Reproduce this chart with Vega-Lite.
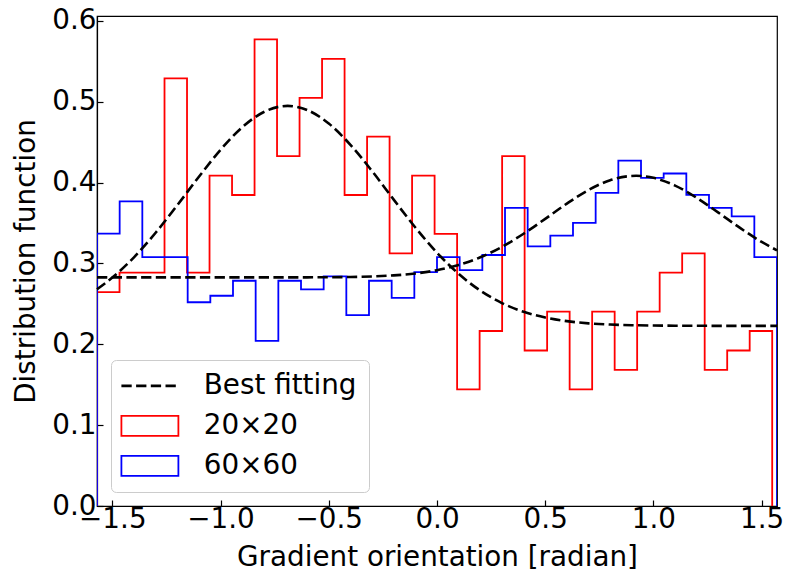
{
  "$schema": "https://vega.github.io/schema/vega-lite/v6.json",
  "width": 680,
  "height": 490,
  "autosize": {"type": "none"},
  "padding": {"left": 97, "top": 16, "right": 11, "bottom": 68},
  "config": {
    "font": "DejaVu Sans",
    "view": {"stroke": "black", "strokeWidth": 1.2},
    "axis": {
      "grid": false,
      "domainColor": "black",
      "domainWidth": 1.2,
      "tickColor": "black",
      "tickWidth": 1.2,
      "tickSize": -6,
      "labelColor": "black",
      "labelFontSize": 27.8,
      "labelFont": "DejaVu Sans",
      "titleColor": "black",
      "titleFontSize": 27.8,
      "titleFont": "DejaVu Sans",
      "titleFontWeight": "normal",
      "labelFlush": false,
      "labelOverlap": false
    }
  },
  "datasets": {
    "hist": [
      {"series": "20×20", "i": 0, "x": -1.5708, "y": 0},
      {"series": "20×20", "i": 1, "x": -1.5708, "y": 0.2644},
      {"series": "20×20", "i": 2, "x": -1.4668, "y": 0.2885},
      {"series": "20×20", "i": 3, "x": -1.3628, "y": 0.2885},
      {"series": "20×20", "i": 4, "x": -1.2589, "y": 0.5289},
      {"series": "20×20", "i": 5, "x": -1.1549, "y": 0.2885},
      {"series": "20×20", "i": 6, "x": -1.0509, "y": 0.4087},
      {"series": "20×20", "i": 7, "x": -0.9469, "y": 0.3846},
      {"series": "20×20", "i": 8, "x": -0.8429, "y": 0.5770},
      {"series": "20×20", "i": 9, "x": -0.7390, "y": 0.4327},
      {"series": "20×20", "i": 10, "x": -0.6350, "y": 0.5048},
      {"series": "20×20", "i": 11, "x": -0.5310, "y": 0.5529},
      {"series": "20×20", "i": 12, "x": -0.4270, "y": 0.3846},
      {"series": "20×20", "i": 13, "x": -0.3230, "y": 0.4568},
      {"series": "20×20", "i": 14, "x": -0.2191, "y": 0.3125},
      {"series": "20×20", "i": 15, "x": -0.1151, "y": 0.4087},
      {"series": "20×20", "i": 16, "x": -0.0111, "y": 0.3366},
      {"series": "20×20", "i": 17, "x": 0.0929, "y": 0.1442},
      {"series": "20×20", "i": 18, "x": 0.1969, "y": 0.2164},
      {"series": "20×20", "i": 19, "x": 0.3009, "y": 0.4327},
      {"series": "20×20", "i": 20, "x": 0.4048, "y": 0.1923},
      {"series": "20×20", "i": 21, "x": 0.5088, "y": 0.2404},
      {"series": "20×20", "i": 22, "x": 0.6128, "y": 0.1442},
      {"series": "20×20", "i": 23, "x": 0.7168, "y": 0.2404},
      {"series": "20×20", "i": 24, "x": 0.8208, "y": 0.1683},
      {"series": "20×20", "i": 25, "x": 0.9247, "y": 0.2404},
      {"series": "20×20", "i": 26, "x": 1.0287, "y": 0.2885},
      {"series": "20×20", "i": 27, "x": 1.1327, "y": 0.3125},
      {"series": "20×20", "i": 28, "x": 1.2367, "y": 0.1683},
      {"series": "20×20", "i": 29, "x": 1.3407, "y": 0.1923},
      {"series": "20×20", "i": 30, "x": 1.4446, "y": 0.2164},
      {"series": "20×20", "i": 31, "x": 1.5486, "y": 0.2164},
      {"series": "20×20", "i": 32, "x": 1.5486, "y": 0},
      {"series": "60×60", "i": 0, "x": -1.5708, "y": 0},
      {"series": "60×60", "i": 1, "x": -1.5708, "y": 0.3369},
      {"series": "60×60", "i": 2, "x": -1.4661, "y": 0.3767},
      {"series": "60×60", "i": 3, "x": -1.3614, "y": 0.3077},
      {"series": "60×60", "i": 4, "x": -1.2566, "y": 0.3077},
      {"series": "60×60", "i": 5, "x": -1.1519, "y": 0.2520},
      {"series": "60×60", "i": 6, "x": -1.0472, "y": 0.2600},
      {"series": "60×60", "i": 7, "x": -0.9425, "y": 0.2786},
      {"series": "60×60", "i": 8, "x": -0.8378, "y": 0.2043},
      {"series": "60×60", "i": 9, "x": -0.7330, "y": 0.2786},
      {"series": "60×60", "i": 10, "x": -0.6283, "y": 0.2679},
      {"series": "60×60", "i": 11, "x": -0.5236, "y": 0.2839},
      {"series": "60×60", "i": 12, "x": -0.4189, "y": 0.2361},
      {"series": "60×60", "i": 13, "x": -0.3142, "y": 0.2786},
      {"series": "60×60", "i": 14, "x": -0.2094, "y": 0.2573},
      {"series": "60×60", "i": 15, "x": -0.1047, "y": 0.2892},
      {"series": "60×60", "i": 16, "x": 0.0, "y": 0.3077},
      {"series": "60×60", "i": 17, "x": 0.1047, "y": 0.2918},
      {"series": "60×60", "i": 18, "x": 0.2094, "y": 0.3104},
      {"series": "60×60", "i": 19, "x": 0.3142, "y": 0.3688},
      {"series": "60×60", "i": 20, "x": 0.4189, "y": 0.3210},
      {"series": "60×60", "i": 21, "x": 0.5236, "y": 0.3343},
      {"series": "60×60", "i": 22, "x": 0.6283, "y": 0.3502},
      {"series": "60×60", "i": 23, "x": 0.7330, "y": 0.3873},
      {"series": "60×60", "i": 24, "x": 0.8378, "y": 0.4271},
      {"series": "60×60", "i": 25, "x": 0.9425, "y": 0.4059},
      {"series": "60×60", "i": 26, "x": 1.0472, "y": 0.4112},
      {"series": "60×60", "i": 27, "x": 1.1519, "y": 0.3847},
      {"series": "60×60", "i": 28, "x": 1.2566, "y": 0.3688},
      {"series": "60×60", "i": 29, "x": 1.3614, "y": 0.3582},
      {"series": "60×60", "i": 30, "x": 1.4661, "y": 0.3077},
      {"series": "60×60", "i": 31, "x": 1.5708, "y": 0.3077},
      {"series": "60×60", "i": 32, "x": 1.5708, "y": 0}
    ],
    "fit": [
      {"series": "Best fitting", "curve": "A", "x": -1.5708, "y": 0.2680},
      {"series": "Best fitting", "curve": "A", "x": -1.5, "y": 0.2825},
      {"series": "Best fitting", "curve": "A", "x": -1.4, "y": 0.3076},
      {"series": "Best fitting", "curve": "A", "x": -1.3, "y": 0.3379},
      {"series": "Best fitting", "curve": "A", "x": -1.2, "y": 0.3719},
      {"series": "Best fitting", "curve": "A", "x": -1.1, "y": 0.4072},
      {"series": "Best fitting", "curve": "A", "x": -1.0, "y": 0.4406},
      {"series": "Best fitting", "curve": "A", "x": -0.9, "y": 0.4684},
      {"series": "Best fitting", "curve": "A", "x": -0.8, "y": 0.4873},
      {"series": "Best fitting", "curve": "A", "x": -0.69, "y": 0.4948},
      {"series": "Best fitting", "curve": "A", "x": -0.6, "y": 0.4897},
      {"series": "Best fitting", "curve": "A", "x": -0.5, "y": 0.4730},
      {"series": "Best fitting", "curve": "A", "x": -0.4, "y": 0.4467},
      {"series": "Best fitting", "curve": "A", "x": -0.3, "y": 0.4142},
      {"series": "Best fitting", "curve": "A", "x": -0.2, "y": 0.3789},
      {"series": "Best fitting", "curve": "A", "x": -0.1, "y": 0.3444},
      {"series": "Best fitting", "curve": "A", "x": 0.0, "y": 0.3133},
      {"series": "Best fitting", "curve": "A", "x": 0.1, "y": 0.2871},
      {"series": "Best fitting", "curve": "A", "x": 0.2, "y": 0.2664},
      {"series": "Best fitting", "curve": "A", "x": 0.3, "y": 0.2510},
      {"series": "Best fitting", "curve": "A", "x": 0.4, "y": 0.2402},
      {"series": "Best fitting", "curve": "A", "x": 0.5, "y": 0.2331},
      {"series": "Best fitting", "curve": "A", "x": 0.6, "y": 0.2286},
      {"series": "Best fitting", "curve": "A", "x": 0.7, "y": 0.2259},
      {"series": "Best fitting", "curve": "A", "x": 0.8, "y": 0.2244},
      {"series": "Best fitting", "curve": "A", "x": 0.9, "y": 0.2236},
      {"series": "Best fitting", "curve": "A", "x": 1.0, "y": 0.2232},
      {"series": "Best fitting", "curve": "A", "x": 1.1, "y": 0.2230},
      {"series": "Best fitting", "curve": "A", "x": 1.2, "y": 0.2229},
      {"series": "Best fitting", "curve": "A", "x": 1.3, "y": 0.2228},
      {"series": "Best fitting", "curve": "A", "x": 1.4, "y": 0.2228},
      {"series": "Best fitting", "curve": "A", "x": 1.5708, "y": 0.2228},
      {"series": "Best fitting", "curve": "B", "x": -1.5708, "y": 0.2827},
      {"series": "Best fitting", "curve": "B", "x": -1.2, "y": 0.2827},
      {"series": "Best fitting", "curve": "B", "x": -0.8, "y": 0.2827},
      {"series": "Best fitting", "curve": "B", "x": -0.6, "y": 0.2828},
      {"series": "Best fitting", "curve": "B", "x": -0.5, "y": 0.2829},
      {"series": "Best fitting", "curve": "B", "x": -0.4, "y": 0.2832},
      {"series": "Best fitting", "curve": "B", "x": -0.3, "y": 0.2839},
      {"series": "Best fitting", "curve": "B", "x": -0.2, "y": 0.2852},
      {"series": "Best fitting", "curve": "B", "x": -0.1, "y": 0.2876},
      {"series": "Best fitting", "curve": "B", "x": 0.0, "y": 0.2916},
      {"series": "Best fitting", "curve": "B", "x": 0.1, "y": 0.2981},
      {"series": "Best fitting", "curve": "B", "x": 0.2, "y": 0.3076},
      {"series": "Best fitting", "curve": "B", "x": 0.3, "y": 0.3205},
      {"series": "Best fitting", "curve": "B", "x": 0.4, "y": 0.3367},
      {"series": "Best fitting", "curve": "B", "x": 0.5, "y": 0.3551},
      {"series": "Best fitting", "curve": "B", "x": 0.6, "y": 0.3740},
      {"series": "Best fitting", "curve": "B", "x": 0.7, "y": 0.3908},
      {"series": "Best fitting", "curve": "B", "x": 0.8, "y": 0.4029},
      {"series": "Best fitting", "curve": "B", "x": 0.92, "y": 0.4084},
      {"series": "Best fitting", "curve": "B", "x": 1.0, "y": 0.4059},
      {"series": "Best fitting", "curve": "B", "x": 1.1, "y": 0.3963},
      {"series": "Best fitting", "curve": "B", "x": 1.2, "y": 0.3811},
      {"series": "Best fitting", "curve": "B", "x": 1.3, "y": 0.3628},
      {"series": "Best fitting", "curve": "B", "x": 1.4, "y": 0.3439},
      {"series": "Best fitting", "curve": "B", "x": 1.5, "y": 0.3266},
      {"series": "Best fitting", "curve": "B", "x": 1.5708, "y": 0.3162}
    ]
  },
  "layer": [
    {
      "data": {"name": "hist"},
      "mark": {"type": "line", "interpolate": "step-after", "strokeWidth": 1.8, "clip": true},
      "encoding": {
        "x": {
          "field": "x", "type": "quantitative",
          "scale": {"domain": [-1.5708, 1.5708], "nice": false, "zero": false},
          "axis": {"values": [-1.5, -1, -0.5, 0, 0.5, 1, 1.5], "format": ".1f", "title": "Gradient orientation [radian]", "labelPadding": 5, "titlePadding": 11}
        },
        "y": {
          "field": "y", "type": "quantitative",
          "scale": {"domain": [0, 0.606], "nice": false, "zero": true},
          "axis": {"values": [0, 0.1, 0.2, 0.3, 0.4, 0.5, 0.6], "format": ".1f", "title": "Distribution function", "labelPadding": 7, "titlePadding": 11}
        },
        "color": {
          "field": "series", "type": "nominal",
          "scale": {"domain": ["Best fitting", "20×20", "60×60"], "range": ["black", "#ff0000", "#0000ff"]},
          "legend": {
            "title": null,
            "orient": "bottom-left",
            "offset": 14,
            "padding": 12,
            "fillColor": "rgba(255,255,255,0.8)",
            "strokeColor": "#cccccc",
            "cornerRadius": 5,
            "labelFontSize": 27.8,
            "labelColor": "black",
            "labelFont": "DejaVu Sans",
            "symbolSize": 812,
            "symbolStrokeWidth": 1.8,
            "symbolOffset": 13,
            "labelOffset": 40,
            "rowPadding": 11,
            "symbolType": "M-2,-0.7H2V0.7H-2Z",
            "encode": {
              "symbols": {
                "update": {
                  "shape": {"signal": "datum.value === 'Best fitting' ? 'M-2,0H2' : 'M-2,-0.7H2V0.7H-2Z'"},
                  "strokeDash": {"signal": "datum.value === 'Best fitting' ? [10.3, 4.4] : [1, 0]"},
                  "strokeWidth": {"signal": "datum.value === 'Best fitting' ? 2.6 : 1.8"},
                  "fill": {"value": "transparent"}
                }
              }
            }
          }
        },
        "order": {"field": "i", "type": "quantitative"}
      }
    },
    {
      "data": {"name": "fit"},
      "mark": {"type": "line", "interpolate": "monotone", "strokeWidth": 2.6, "strokeDash": [10.3, 4.4]},
      "encoding": {
        "x": {"field": "x", "type": "quantitative"},
        "y": {"field": "y", "type": "quantitative"},
        "color": {"field": "series", "type": "nominal"},
        "detail": {"field": "curve", "type": "nominal"}
      }
    }
  ]
}
